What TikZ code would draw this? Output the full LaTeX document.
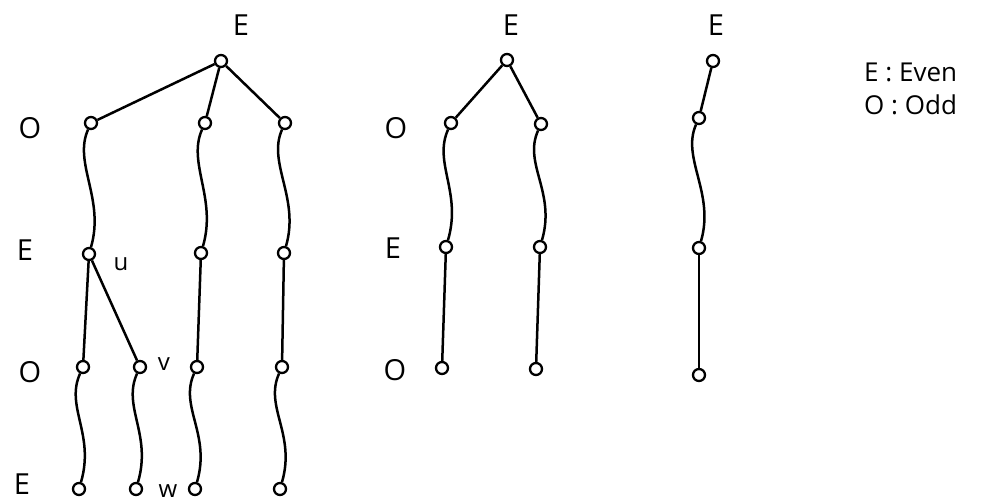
\documentclass[tikz,border=0pt]{standalone}
\usepackage{fontspec}
\setmainfont{Open Sans}
\begin{document}
\begin{tikzpicture}[x=1pt,y=-1pt,
  vtx/.style={circle,draw,fill=white,line width=2.3pt,inner sep=0pt,minimum size=12pt},
  edge/.style={line width=2.5pt},
  lvl/.style={font=\fontsize{29}{32}\selectfont,inner sep=0pt},
  tag/.style={font=\fontsize{24}{26}\selectfont,inner sep=0pt},
  legend/.style={font=\fontsize{26}{30}\selectfont,inner sep=0pt,anchor=west}]
\useasboundingbox (0,0) rectangle (998,503);

% parity labels on the left
\node[lvl] (lo1) at (30,128) {O};
\node[lvl] (le1) at (25,250) {E};
\node[lvl] (lo2) at (30,372) {O};
\node[lvl,anchor=base] (le2) at (22,494) {E};
\node[lvl] (mo1) at (396,128) {O};
\node[lvl] (me1) at (393,248) {E};
\node[lvl] (mo2) at (395,370) {O};
\node[lvl] (t1) at (241,25) {E};
\node[lvl] (t2) at (511,25) {E};
\node[lvl] (t3) at (716,25) {E};

% legend
\node[legend] (leg1) at (864,72) {E : Even};
\node[legend] (leg2) at (864,105) {O : Odd};

% first tree
\node[vtx] (r1) at (221,61) {};
\node[vtx] (a1) at (91,123) {};
\node[vtx] (b1) at (205,123) {};
\node[vtx] (c1) at (285,123) {};
\node[vtx] (d1) at (89,254) {};
\node[vtx] (e1) at (201,253) {};
\node[vtx] (f1) at (284,253) {};
\node[vtx] (g1) at (83,367) {};
\node[vtx] (h1) at (140,367) {};
\node[vtx] (i1) at (197,367) {};
\node[vtx] (j1) at (282,367) {};
\node[vtx] (k1) at (79,489) {};
\node[vtx] (l1) at (136,489) {};
\node[vtx] (m1) at (195,489) {};
\node[vtx] (n1) at (280,489) {};
\node[tag] (u) at (121,264) {u};
\node[tag] (v) at (164,364) {v};
\node[tag,anchor=base] (w) at (168,497) {w};

% second tree
\node[vtx] (r2) at (507,60) {};
\node[vtx] (a2) at (451,123) {};
\node[vtx] (b2) at (541,124) {};
\node[vtx] (d2) at (446,247) {};
\node[vtx] (e2) at (540,247) {};
\node[vtx] (g2) at (442,368) {};
\node[vtx] (h2) at (536,369) {};

% third tree
\node[vtx] (r3) at (713,61) {};
\node[vtx] (a3) at (699,118) {};
\node[vtx] (d3) at (699,248) {};
\node[vtx] (g3) at (699,375) {};

% straight edges
\foreach \s/\t in {r1/a1,r1/b1,r1/c1,d1/g1,d1/h1,e1/i1,f1/j1,
                   r2/a2,r2/b2,d2/g2,e2/h2,r3/a3,d3/g3}
  \draw[edge] (\s) -- (\t);
% wavy edges
\foreach \s/\t in {a1/d1,b1/e1,c1/f1,g1/k1,h1/l1,i1/m1,j1/n1,
                   a2/d2,b2/e2,a3/d3}
  \draw[edge] (\s) .. controls +(-18,40) and +(16,-55) .. (\t);
\end{tikzpicture}
\end{document}
